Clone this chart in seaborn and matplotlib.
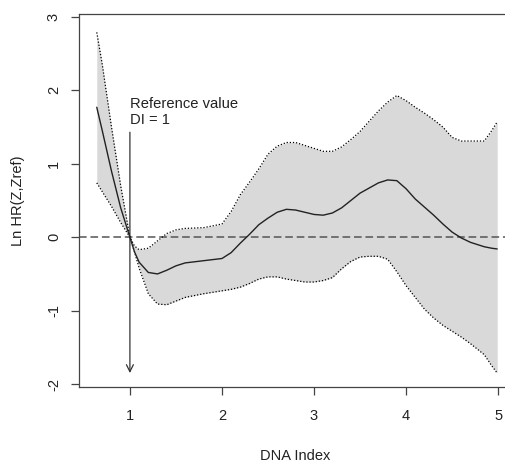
import numpy as np
import pandas as pd
import seaborn as sns
import matplotlib
matplotlib.use("Agg")
import matplotlib.pyplot as plt

# DNA index grid and curves
dna_index = [0.64, 0.7, 0.8, 0.9, 1.0, 1.05, 1.1, 1.2, 1.3, 1.4, 1.5, 1.6,
             1.8, 2.0, 2.1, 2.2, 2.3, 2.4, 2.5, 2.6, 2.7, 2.8, 2.9, 3.0, 3.1,
             3.2, 3.3, 3.4, 3.5, 3.6, 3.7, 3.8, 3.9, 4.0, 4.1, 4.2, 4.3, 4.4,
             4.5, 4.6, 4.7, 4.85, 4.93, 4.99]
ln_hr = [1.77, 1.45, 0.90, 0.40, 0.00, -0.20, -0.34, -0.48, -0.50, -0.45,
         -0.39, -0.35, -0.32, -0.29, -0.21, -0.08, 0.04, 0.17, 0.26, 0.34,
         0.38, 0.37, 0.34, 0.31, 0.30, 0.33, 0.40, 0.50, 0.60, 0.67, 0.74,
         0.78, 0.77, 0.66, 0.52, 0.41, 0.30, 0.18, 0.07, -0.01, -0.07, -0.13,
         -0.15, -0.16]
upper = [2.79, 2.35, 1.50, 0.70, 0.00, -0.12, -0.17, -0.15, -0.05, 0.05,
         0.10, 0.12, 0.13, 0.18, 0.35, 0.58, 0.75, 0.93, 1.13, 1.24, 1.29,
         1.29, 1.25, 1.21, 1.17, 1.17, 1.23, 1.33, 1.44, 1.58, 1.72, 1.84,
         1.93, 1.86, 1.77, 1.69, 1.60, 1.50, 1.36, 1.31, 1.31, 1.31, 1.45,
         1.57]
lower = [0.74, 0.62, 0.42, 0.20, 0.00, -0.20, -0.42, -0.77, -0.91, -0.92,
         -0.87, -0.82, -0.77, -0.73, -0.71, -0.68, -0.63, -0.57, -0.54, -0.54,
         -0.57, -0.59, -0.61, -0.61, -0.59, -0.55, -0.43, -0.33, -0.27, -0.26,
         -0.26, -0.30, -0.47, -0.66, -0.82, -0.98, -1.10, -1.20, -1.28, -1.36,
         -1.45, -1.60, -1.75, -1.85]

x_ticks = [1, 2, 3, 4, 5]
y_ticks = [-2, -1, 0, 1, 2, 3]

df = pd.DataFrame({"dna": dna_index, "hr": ln_hr, "lo": lower, "hi": upper})

sns.set_style("ticks")
plt.rcParams["font.family"] = ["Liberation Sans", "DejaVu Sans"]

fig = plt.figure(figsize=(5.06, 4.61), dpi=100)
ax = fig.add_axes([79 / 506, 74 / 461, 432 / 506, 373 / 461])

ax.fill_between(df["dna"], df["lo"], df["hi"], color="#d9d9d9", lw=0, zorder=1)
sns.lineplot(data=df, x="dna", y="hi", ax=ax, color="black", lw=0.9,
             linestyle=(0, (1, 1.5)), zorder=3)
sns.lineplot(data=df, x="dna", y="lo", ax=ax, color="black", lw=0.9,
             linestyle=(0, (1, 1.5)), zorder=3)
sns.lineplot(data=df, x="dna", y="hr", ax=ax, color="#222222", lw=1.0, zorder=4)

ax.axhline(0, color="#555555", lw=1.1, linestyle=(0, (5, 2.5)), zorder=2)

# reference value arrow and label
ax.annotate("", xy=(1.0, -1.85), xytext=(1.0, 1.43),
            arrowprops=dict(arrowstyle="->,head_length=0.5,head_width=0.25",
                            color="#333333", lw=0.9, shrinkA=0, shrinkB=0))
ax.text(1.0, 1.54, "Reference value\nDI = 1", ha="left", va="baseline",
        fontsize=10.6, color="#222222", linespacing=1.15)

ax.set_xlim(0.447, 5.14)
ax.set_ylim(-2.04, 3.04)
ax.set_xticks(x_ticks)
ax.set_yticks(y_ticks)
ax.set_yticklabels([str(v) for v in y_ticks], rotation=90, va="center")

for s in ax.spines.values():
    s.set_color("#444444")
    s.set_linewidth(0.9)
ax.tick_params(direction="out", length=6, width=0.9, color="#444444",
               labelsize=10.5, labelcolor="#222222")
ax.tick_params(axis="x", pad=10)
ax.tick_params(axis="y", pad=7)

ax.set_xlabel("DNA Index", fontsize=10.5, color="#222222")
ax.set_ylabel("Ln HR(Z,Zref)", fontsize=10.5, color="#222222")
ax.xaxis.set_label_coords(0.5, -0.165)
ax.yaxis.set_label_coords(-0.125, 0.5)

fig.savefig("out.png", dpi=100)
